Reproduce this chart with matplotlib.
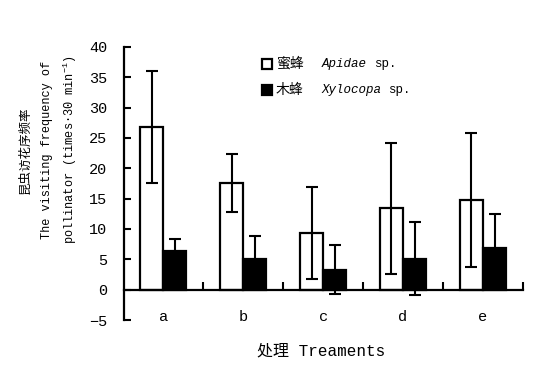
import matplotlib
matplotlib.use("Agg")
import matplotlib.pyplot as plt
from matplotlib.patches import Rectangle
import numpy as np

plt.rcParams["font.family"] = ["Liberation Mono", "Noto Sans CJK SC"]
plt.rcParams["mathtext.default"] = "regular"

treatments = ["a", "b", "c", "d", "e"]
apidae_mean = [26.8, 17.6, 9.3, 13.4, 14.8]
apidae_err = [9.3, 4.8, 7.6, 10.8, 11.0]
xylocopa_mean = [6.3, 5.0, 3.3, 5.1, 6.9]
xylocopa_err = [2.1, 3.9, 4.0, 6.0, 5.5]

W, H = 537, 381
fig = plt.figure(figsize=(W / 100, H / 100), dpi=100)
ax = fig.add_axes([124 / W, 1 - 320 / H, (523 - 124) / W, (320 - 47) / H])

x = np.arange(len(treatments))
bw = 0.29
ekw = dict(ecolor="black", elinewidth=1.5, capsize=4.5, capthick=1.5)
ax.bar(x - bw / 2, apidae_mean, bw, color="white", edgecolor="black",
       linewidth=1.6, yerr=apidae_err, error_kw=ekw, zorder=2)
ax.bar(x + bw / 2, xylocopa_mean, bw, color="black", edgecolor="black",
       linewidth=1.6, yerr=xylocopa_err, error_kw=ekw, zorder=2)

ax.set_xlim(-0.49, 4.5)
ax.set_ylim(-5, 40)
ax.set_yticks(np.arange(-5, 41, 5))
ax.set_xticks(x + 0.5)
ax.set_xticklabels([])
ax.tick_params(axis="y", direction="in", length=5, width=1.5, pad=12, labelsize=11)
ax.tick_params(axis="x", direction="in", length=6, width=1.5)
for s in ("top", "right"):
    ax.spines[s].set_visible(False)
ax.spines["bottom"].set_position(("data", 0))
ax.spines["left"].set_linewidth(1.6)
ax.spines["bottom"].set_linewidth(1.6)

for i, t in enumerate(treatments):
    ax.text(i, -4.5, t, ha="center", va="center", fontsize=11)

# y label: three rotated lines
yc = 1 - 150 / H
fig.text(25 / W, yc, "昆虫访花序频率", rotation=90, ha="center", va="center",
         fontsize=9)
fig.text(47 / W, yc, "The visiting frequency of", rotation=90, ha="center",
         va="center", fontsize=8.6)
fig.text(70 / W, yc, "pollinator (times·30 min$^{-1}$)", rotation=90,
         ha="center", va="center", fontsize=8.6)

# x label
fig.text(321 / W, 1 - 351 / H, "处理 Treaments", ha="center", va="center",
         fontsize=11.5)

# legend drawn by hand to allow italic species names
rows = [(64, "white", "蜜蜂", "Apidae", 322, 374),
        (90, "black", "木蜂", "Xylocopa", 321, 388)]
for yp, fc, cn, sp, xs, xsp in rows:
    fig.patches.append(Rectangle((262 / W, 1 - (yp + 5) / H), 10 / W, 10 / H,
                                 facecolor=fc, edgecolor="black", linewidth=1.6,
                                 transform=fig.transFigure))
    fig.text(276 / W, 1 - yp / H, cn, ha="left", va="center", fontsize=10)
    fig.text(xs / W, 1 - yp / H, sp, ha="left", va="center", fontsize=9,
             style="italic")
    fig.text(xsp / W, 1 - yp / H, "sp.", ha="left", va="center", fontsize=9)

fig.savefig("out.png", dpi=100)
